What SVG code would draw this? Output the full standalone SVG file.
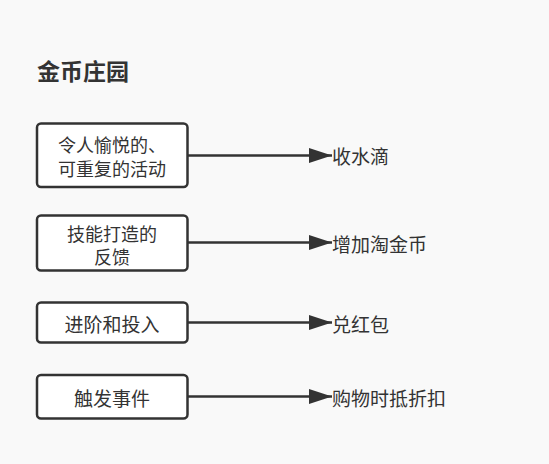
<svg xmlns="http://www.w3.org/2000/svg" width="549" height="464" viewBox="0 0 549 464">
<defs>
<style>
.bg{fill:#f9f9f9}
.box{fill:#ffffff;stroke:#333333;stroke-width:2.5}
.t{font-family:"Noto Sans CJK SC","Noto Sans",sans-serif;font-size:19px;fill:#333333}
.s{font-size:18px}
.c{text-anchor:middle}
.title{font-family:"Noto Sans CJK SC","Noto Sans",sans-serif;font-size:23px;font-weight:bold;fill:#333333}
.edge{stroke:#333333;stroke-width:2.5;fill:none}
</style>
<marker id="arr" markerWidth="24" markerHeight="16" refX="23" refY="8" orient="auto" markerUnits="userSpaceOnUse">
<path d="M0,0.5 L23,8 L0,15.5 Z" fill="#333333"/>
</marker>
</defs>
<rect class="bg" x="0" y="0" width="549" height="464"/>
<text class="title" x="37" y="80">金币庄园</text>
<g id="n1"><rect class="box" x="37" y="123.5" width="150.5" height="63.5" rx="4"/><text class="t s c" x="112" y="151.5">令人愉悦的、</text><text class="t s c" x="112" y="175.5">可重复的活动</text></g>
<g id="n2"><rect class="box" x="37" y="215.5" width="150.5" height="55" rx="4"/><text class="t s c" x="112" y="240.5">技能打造的</text><text class="t s c" x="112" y="264">反馈</text></g>
<g id="n3"><rect class="box" x="37" y="302.5" width="150.5" height="40" rx="4"/><text class="t c" x="112" y="331.5">进阶和投入</text></g>
<g id="n4"><rect class="box" x="37" y="375" width="150.5" height="43.5" rx="4"/><text class="t c" x="112" y="405.5">触发事件</text></g>
<g id="l1"><text class="t" x="332" y="164">收水滴</text></g>
<g id="l2"><text class="t" x="332" y="252">增加淘金币</text></g>
<g id="l3"><text class="t" x="332" y="331.5">兑红包</text></g>
<g id="l4"><text class="t" x="332" y="406">购物时抵折扣</text></g>
<g id="edges">
<line class="edge" x1="188" y1="155.5" x2="332" y2="155.5" marker-end="url(#arr)"/>
<line class="edge" x1="188" y1="242.5" x2="332" y2="242.5" marker-end="url(#arr)"/>
<line class="edge" x1="188" y1="322.5" x2="332" y2="322.5" marker-end="url(#arr)"/>
<line class="edge" x1="188" y1="396.5" x2="332" y2="396.5" marker-end="url(#arr)"/>
</g>
</svg>
